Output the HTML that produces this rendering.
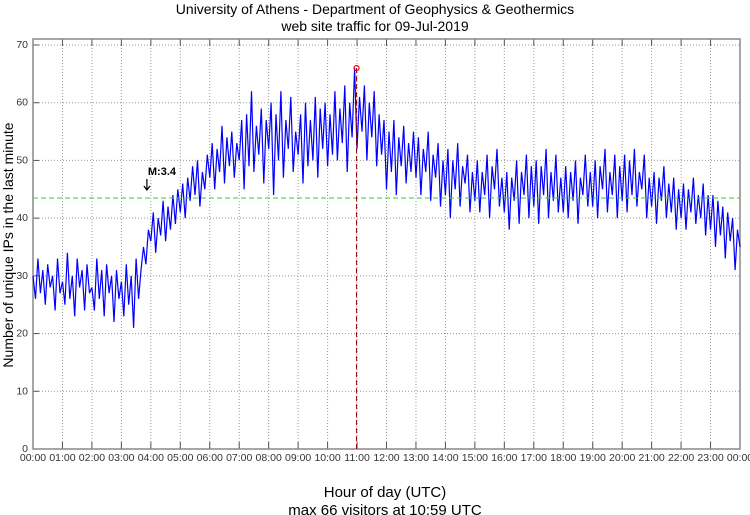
<!DOCTYPE html>
<html><head><meta charset="utf-8"><style>
body{margin:0;background:#fff;}
svg{display:block;font-family:"Liberation Sans",sans-serif;}
</style></head><body>
<svg id="chart" width="750" height="515" viewBox="0 0 750 515" xmlns="http://www.w3.org/2000/svg">
<text x="375" y="14" text-anchor="middle" font-size="14">University of Athens - Department of Geophysics &amp; Geothermics</text>
<text x="375" y="31" text-anchor="middle" font-size="14">web site traffic for 09-Jul-2019</text>
<text transform="translate(13,245) rotate(-90)" text-anchor="middle" font-size="14">Number of unique IPs in the last minute</text>
<text x="385" y="497" text-anchor="middle" font-size="15">Hour of day (UTC)</text>
<text x="385" y="515" text-anchor="middle" font-size="15">max 66 visitors at 10:59 UTC</text>
<g id="grid"></g>
<g id="axes"></g>
<g id="series"></g>
<g id="annot"></g>
</svg>
<script>
const yTicks=[0,10,20,30,40,50,60,70];
const xTickLabels=["00:00","01:00","02:00","03:00","04:00","05:00","06:00","07:00","08:00","09:00","10:00","11:00","12:00","13:00","14:00","15:00","16:00","17:00","18:00","19:00","20:00","21:00","22:00","23:00","00:00"];
const stepMinutes=5;
const visitors=[
30,26,33,27,31,25,32,28,30,24,33,27,
29,25,34,26,30,23,33,28,31,24,32,27,
28,24,33,26,31,23,32,27,30,22,31,26,
29,23,32,25,30,21,33,26,31,35,32,38,
36,41,34,40,37,43,36,42,38,44,39,45,
41,46,40,47,43,49,44,50,42,48,45,51,
47,53,45,52,48,56,46,54,49,55,47,53,
50,57,45,58,49,62,48,56,51,59,46,57,
52,60,44,58,50,62,47,57,52,61,48,55,
51,58,46,60,49,57,50,61,47,59,52,60,
49,58,51,62,50,59,53,63,48,60,54,66,
52,61,55,63,50,60,54,62,49,58,51,57,
45,55,48,57,44,54,49,56,46,53,48,55,
47,54,44,52,48,55,43,51,47,53,42,50,
44,52,40,50,45,53,42,49,46,51,41,48,
43,50,41,48,44,51,40,49,45,52,42,47,
41,48,38,47,43,50,39,48,44,51,40,49,
42,50,39,49,44,52,40,48,43,51,41,47,
41,49,40,48,43,50,39,47,44,51,42,48,
42,50,40,49,45,52,41,48,44,51,40,49,
43,51,41,50,44,52,42,48,45,51,40,47,
42,48,39,47,43,49,40,46,41,47,38,45,
40,46,38,45,41,47,39,44,40,46,37,44,
38,44,35,43,37,42,33,41,36,40,31,38,
35];
const meanLevel=[43.5];
const maxPoint=[10+59/60,66];
const quakeMark=[3+54/60,"M:3.4"];

const L=33,R=740,T=39,B=449,Y0=449,YSCALE=(449-45)/70;
const xs=h=>L+h*(R-L)/24;
const ys=v=>Y0-v*YSCALE;
const NS="http://www.w3.org/2000/svg";
function mk(tag,parent,attrs){const e=document.createElementNS(NS,tag);for(const k in attrs)e.setAttribute(k,attrs[k]);parent.appendChild(e);return e;}
const grid=document.getElementById('grid'),axes=document.getElementById('axes'),series=document.getElementById('series'),annot=document.getElementById('annot');

yTicks.forEach(v=>{
  const y=ys(v);
  if(v>0){const g=mk('line',grid,{x1:L,x2:R,y1:y,y2:y,stroke:'#999','stroke-width':1,'stroke-dasharray':'1,2'});
  
  }
  const t=mk('line',axes,{x1:L,x2:L+6,y1:y,y2:y,stroke:'#555','stroke-width':1});
  
  
  const lb=mk('text',axes,{x:L-5,y:y+3,'text-anchor':'end','font-size':10.5,fill:'#333'});
  lb.textContent=v;
  
  
});
xTickLabels.forEach((s,i)=>{
  const x=xs(i);
  if(i>0&&i<24){const g=mk('line',grid,{x1:x,x2:x,y1:T,y2:B,stroke:'#999','stroke-width':1,'stroke-dasharray':'1,2'});
  
  }
  const t1=mk('line',axes,{x1:x,x2:x,y1:B,y2:B-7,stroke:'#555','stroke-width':1});
  
  
  const t2=mk('line',axes,{x1:x,x2:x,y1:T,y2:T+7,stroke:'#555','stroke-width':1});
  
  
  const lb=mk('text',axes,{x:x,y:B+12,'text-anchor':'middle','font-size':10.5,fill:'#333'});
  lb.textContent=s;
  
  
});
const frame=mk('rect',axes,{x:L,y:T,width:R-L,height:B-T,fill:'none',stroke:'#888','stroke-width':1.5});



const pts=visitors.map((v,i)=>xs(i*stepMinutes/60).toFixed(1)+','+ys(v).toFixed(1)).join(' ');
const line=mk('polyline',series,{points:pts,fill:'none',stroke:'#0000ff','stroke-width':1.2});



const ml=mk('line',annot,{x1:L,x2:R,y1:ys(meanLevel[0]),y2:ys(meanLevel[0]),stroke:'#22dd22','stroke-width':1,'stroke-dasharray':'5,3'});


const mv=mk('line',annot,{x1:xs(maxPoint[0]),x2:xs(maxPoint[0]),y1:ys(maxPoint[1]),y2:B,stroke:'#880000','stroke-width':1,'stroke-dasharray':'5,3'});


const mc=mk('circle',annot,{cx:xs(maxPoint[0]),cy:ys(maxPoint[1]),r:2.5,fill:'none',stroke:'#ee0000','stroke-width':1.2});


const qx=xs(quakeMark[0]);
const qt=mk('text',annot,{x:qx,y:175,'font-size':11,'font-weight':'bold'});
qt.textContent=quakeMark[1];


const qa=mk('path',annot,{d:`M${qx-1},179 L${qx-1},190 M${qx-4},186 L${qx-1},190 L${qx+2},186`,stroke:'#000','stroke-width':1.2,fill:'none'});


</script>
</body></html>
